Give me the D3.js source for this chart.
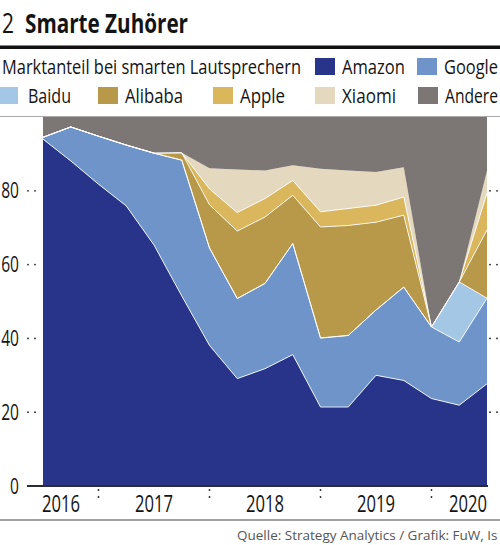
<!DOCTYPE html>
<html>
<head>
<meta charset="utf-8">
<script src="https://cdn.jsdelivr.net/npm/d3@7"></script>
<style>
  body { margin: 0; background: #fff; }
  svg { display: block; }
  text { font-family: "Open Sans", "Noto Sans", sans-serif; fill: #141414; }
</style>
</head>
<body>
<script>
// Quartale (Quartalsende), Anteile in Prozent
const quarters = ["2016 Q2", "2016 Q3", "2016 Q4", "2017 Q1", "2017 Q2", "2017 Q3", "2017 Q4",
  "2018 Q1", "2018 Q2", "2018 Q3", "2018 Q4", "2019 Q1", "2019 Q2", "2019 Q3", "2019 Q4",
  "2020 Q1", "2020 Q2"];
const amazon  = [94.0, 88.1, 81.8, 75.9, 65.3, 51.5, 38.1, 29.1, 31.8, 35.6, 21.4, 21.4, 30.0, 28.6, 23.7, 21.9, 27.7];
const google  = [0.5, 9.2, 13.0, 16.5, 24.9, 36.8, 26.4, 21.7, 23.1, 30.1, 18.7, 19.4, 17.7, 25.3, 19.4, 17.1, 23.2];
const baidu   = [0, 0, 0, 0, 0, 0, 0, 0, 0, 0, 0, 0, 0, 0, 0, 16.3, 0];
const alibaba = [0, 0, 0, 0, 0, 2.0, 11.7, 18.3, 18.0, 13.1, 30.1, 29.8, 23.8, 19.5, 0, 0, 18.5];
const apple   = [0, 0, 0, 0, 0, 0, 4.3, 5.0, 5.0, 4.0, 4.1, 4.6, 4.6, 4.9, 0, 0, 10.0];
const xiaomi  = [0, 0, 0, 0, 0, 0, 5.6, 11.7, 7.6, 4.1, 11.7, 10.3, 9.0, 8.1, 0, 0, 6.0];
const andere  = [5.5, 2.7, 5.2, 7.6, 9.8, 9.7, 13.9, 14.2, 14.5, 13.1, 14.0, 14.5, 14.9, 13.6, 56.9, 44.7, 14.6];

const seriesNames = ["Amazon", "Google", "Baidu", "Alibaba", "Apple", "Xiaomi", "Andere"];
const seriesValues = [amazon, google, baidu, alibaba, apple, xiaomi, andere];
const colors = ["#283489", "#6e94c9", "#a5c7e6", "#b8994a", "#dab65c", "#e4d9bf", "#7c7774"];
const yTicks = [0, 20, 40, 60, 80];
const years = [2016, 2017, 2018, 2019, 2020];

const W = 500, H = 545;
const svg = d3.select("body").append("svg")
    .attr("width", W)
    .attr("height", H);

// squeeze a text to a width, like a condensed cut
function fit(sel, w) {
  sel.attr("textLength", w).attr("lengthAdjust", "spacingAndGlyphs");
}
function condense(sel, k) {
  sel.each(function () {
    fit(d3.select(this), this.getComputedTextLength() * k);
  });
}

// rows for d3.stack
const rows = quarters.map((q, i) => {
  const row = { t: +q.slice(0, 4) + +q.slice(-1) / 4 };
  seriesNames.forEach((s, k) => { row[s] = seriesValues[k][i]; });
  return row;
});

const x = d3.scaleLinear().domain([2016.5, 2020.5]).range([43, 487]);
const y = d3.scaleLinear().domain([0, 100]).range([486, 117]);

const stacked = d3.stack().keys(seriesNames)(rows);

// title
svg.append("text").attr("x", 2).attr("y", 33).attr("font-size", 27)
    .text("2").call(fit, 12);
svg.append("text").attr("x", 25).attr("y", 33).attr("font-size", 27)
    .attr("font-weight", "bold")
    .text("Smarte Zuhörer").call(fit, 163);

svg.append("rect").attr("x", 0).attr("y", 45.5).attr("width", W).attr("height", 3.5).attr("fill", "#111");

svg.append("text").attr("x", 2).attr("y", 74).attr("font-size", 20)
    .text("Marktanteil bei smarten Lautsprechern").call(fit, 299);

// legend
const legendPos = [[315, 0], [417, 0], [0, 1], [98, 1], [213, 1], [315, 1], [418, 1]];
const legendW = [63, 54, 43, 58, 45, 54, 53];
const legend = svg.append("g")
    .selectAll("g")
    .data(seriesNames)
    .enter()
    .append("g")
    .attr("transform", (d, i) => `translate(${legendPos[i][0]},${58 + legendPos[i][1] * 29})`);
legend.append("rect")
    .attr("width", (d, i) => i == 2 ? 18 : 20).attr("height", 17)
    .attr("fill", (d, i) => colors[i]);
legend.append("text")
    .attr("x", (d, i) => i == 2 ? 28 : 27)
    .attr("y", 16)
    .attr("font-size", 20)
    .text(d => d)
    .each(function (d, i) { fit(d3.select(this), legendW[i]); });

// top frame line
svg.append("line")
    .attr("x1", 0).attr("x2", W)
    .attr("y1", y(100) - 0.5).attr("y2", y(100) - 0.5)
    .attr("stroke", "#a9a9a9").attr("stroke-width", 1);

// areas
const area = d3.area()
    .x(d => x(d.data.t))
    .y0(d => y(d[0]))
    .y1(d => y(d[1]));

svg.append("g")
    .selectAll("path")
    .data(stacked)
    .enter()
    .append("path")
    .attr("fill", (d, i) => colors[i])
    .attr("d", area);

// white boundaries between the layers
const topLine = d3.line()
    .x(d => x(d.data.t))
    .y(d => y(d[1]));

svg.append("g")
    .selectAll("path")
    .data(stacked.slice(0, 5))
    .enter()
    .append("path")
    .attr("fill", "none")
    .attr("stroke", "#fff")
    .attr("stroke-opacity", 0.85)
    .attr("stroke-width", 1)
    .attr("stroke-linejoin", "round")
    .attr("d", topLine);

// y axis: labels and dot marks
const yAxis = svg.append("g");
yAxis.selectAll("text")
    .data(yTicks)
    .enter()
    .append("text")
    .attr("x", 19)
    .attr("y", d => y(d) + 7.5)
    .attr("text-anchor", "end")
    .attr("font-size", 21)
    .text(d => d)
    .call(condense, 0.74);

const dotX = [28, 35, 490, 497];
yAxis.selectAll("g")
    .data(yTicks.filter(d => d > 0))
    .enter()
    .append("g")
    .selectAll("circle")
    .data(d => dotX.map(px => [px, d]))
    .enter()
    .append("circle")
    .attr("cx", d => d[0])
    .attr("cy", d => y(d[1]))
    .attr("r", 0.9)
    .attr("fill", "#222");

// x axis
svg.append("line")
    .attr("x1", 27).attr("x2", 488)
    .attr("y1", y(0)).attr("y2", y(0))
    .attr("stroke", "#2b2b35").attr("stroke-width", 2);

const seps = years.slice(1);
svg.append("g")
    .selectAll("circle")
    .data(seps.flatMap(t => [[t, 490], [t, 497]]))
    .enter()
    .append("circle")
    .attr("cx", d => x(d[0]))
    .attr("cy", d => d[1])
    .attr("r", 0.9)
    .attr("fill", "#222");

svg.append("g")
    .selectAll("text")
    .data(years)
    .enter()
    .append("text")
    .attr("x", (d, i) => i == 0 ? x.range()[0] - 1 : i == years.length - 1 ? x.range()[1] : x(d + 0.5))
    .attr("text-anchor", (d, i) => i == 0 ? "start" : i == years.length - 1 ? "end" : "middle")
    .attr("y", 512)
    .attr("font-size", 24.5)
    .text(d => d)
    .call(fit, 38);

// footer
svg.append("line")
    .attr("x1", 0).attr("x2", W)
    .attr("y1", 520).attr("y2", 520)
    .attr("stroke", "#444").attr("stroke-width", 1.2);

svg.append("text")
    .attr("x", 237)
    .attr("y", 540)
    .attr("font-size", 13.5)
    .style("fill", "#555")
    .text("Quelle: Strategy Analytics / Grafik: FuW, Is");
</script>
</body>
</html>
